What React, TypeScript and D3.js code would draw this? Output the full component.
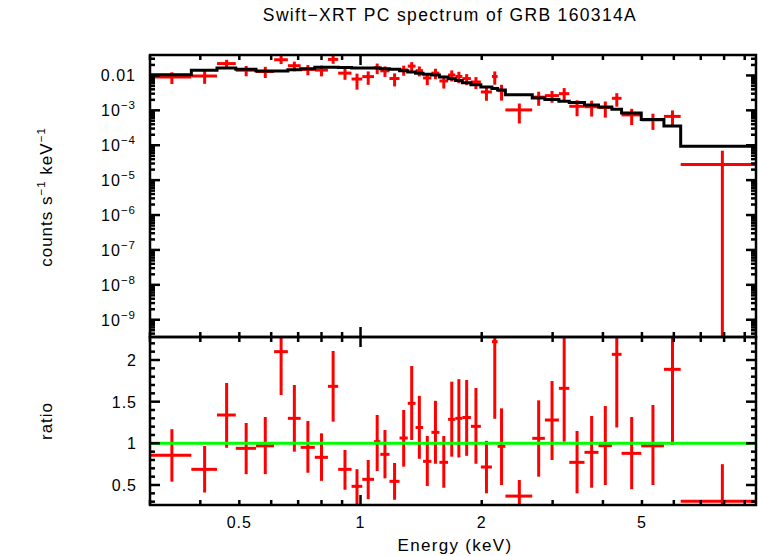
import React, { useEffect, useRef } from "react";
import * as d3 from "d3";

// bin edges in keV (41 bins)
const eEdges = [
  0.30, 0.38, 0.44, 0.49, 0.55, 0.61, 0.66, 0.71, 0.77, 0.83,
  0.88, 0.95, 1.01, 1.08, 1.12, 1.18, 1.25, 1.31, 1.37, 1.43,
  1.50, 1.57, 1.65, 1.72, 1.79, 1.88, 1.99, 2.12, 2.19, 2.29,
  2.67, 2.87, 3.11, 3.30, 3.60, 3.90, 4.21, 4.45, 4.98, 5.67,
  6.24, 9.60,
];

// folded model, counts s^-1 keV^-1
const modelRate = [
  0.0105, 0.014, 0.0163, 0.015, 0.0134, 0.0134, 0.0146, 0.0156, 0.0171, 0.0171,
  0.0169, 0.0163, 0.0163, 0.0163, 0.0156, 0.015, 0.0136, 0.0125, 0.0115, 0.0108,
  0.0103, 0.009, 0.008, 0.0072, 0.0062, 0.0054, 0.0047, 0.0042, 0.0038, 0.0028,
  0.00225, 0.00206, 0.00181, 0.00169, 0.00142, 0.00124, 0.00107, 0.00084, 0.00055, 0.000355,
  0.000093,
];

// data / model
const ratio = [
  0.856, 0.688, 1.34, 0.94, 0.97, 2.1, 1.3, 0.952, 0.832, 1.684,
  0.688, 0.484, 0.568, 1.02, 0.868, 0.544, 1.064, 1.48, 1.19, 0.784,
  1.132, 0.772, 1.288, 1.3, 1.31, 1.204, 0.716, 2.22, 0.964, 0.367,
  1.06, 1.28, 1.66, 0.772, 0.892, 0.972, 2.068, 0.88, 0.97, 1.888,
  0.304,
];
const ratioLo = [
  0.54, 0.41, 0.947, 0.63, 0.63, 1.58, 0.9, 0.647, 0.55, 1.26,
  0.443, 0.24, 0.33, 0.667, 0.58, 0.323, 0.72, 1.04, 0.815, 0.487,
  0.755, 0.467, 0.84, 0.83, 0.85, 0.755, 0.4, 1.295, 0.5, 0.15,
  0.6, 0.8, 1.02, 0.4, 0.467, 0.5, 1.19, 0.45, 0.5, 0.98,
  0.0,
];
const ratioHi = [
  1.17, 0.968, 1.724, 1.244, 1.316, 2.8, 1.7, 1.268, 1.12, 2.108,
  0.92, 0.69, 0.8, 1.34, 1.16, 0.764, 1.4, 1.928, 1.57, 1.088,
  1.51, 1.088, 1.74, 1.77, 1.76, 1.664, 1.03, 3.1, 1.42, 0.56,
  1.516, 1.748, 2.4, 1.148, 1.328, 1.448, 2.9, 1.316, 1.46, 2.8,
  0.75,
];

const xTickLabels = [0.5, 1, 2, 5];
const rateTickExps = [-2, -3, -4, -5, -6, -7, -8, -9];
const ratioTickLabels = [0.5, 1, 1.5, 2];

const title = "Swift\u2212XRT PC spectrum of GRB 160314A";
const font = "'Liberation Sans', Arial, Helvetica, sans-serif";

const SpectrumChart: React.FC = () => {
  const svgRef = useRef<SVGSVGElement | null>(null);

  useEffect(() => {
    if (!svgRef.current) return;
    const width = 758;
    const height = 556;
    const left = 150, right = 756, top = 55, mid = 337, bottom = 505;

    const svg = d3.select(svgRef.current);
    svg.selectAll("*").remove();
    svg.attr("width", width).attr("height", height);
    svg.append("rect").attr("width", width).attr("height", height).attr("fill", "#fff");

    const x = d3.scaleLog().domain([0.3, 9.6]).range([left, right]);
    const yTop = d3.scaleLog().domain([3.2e-10, 0.0385]).range([mid, top]);
    const yBot = d3.scaleLinear().domain([0.26, 2.276]).range([bottom, mid]);

    const bins = modelRate.map((m, i) => ({
      lo: eEdges[i],
      hi: eEdges[i + 1],
      c: (eEdges[i] + eEdges[i + 1]) / 2,
      m,
      r: ratio[i],
      rl: ratioLo[i],
      rh: ratioHi[i],
    }));

    const defs = svg.append("defs");
    defs.append("clipPath").attr("id", "clipTop").append("rect")
      .attr("x", left).attr("y", top).attr("width", right - left).attr("height", mid - top);
    defs.append("clipPath").attr("id", "clipBot").append("rect")
      .attr("x", left).attr("y", mid).attr("width", right - left).attr("height", bottom - mid);

    // top panel: data crosses
    const gTop = svg.append("g").attr("clip-path", "url(#clipTop)");
    const minRate = yTop.domain()[0] * 0.1;
    bins.forEach((b) => {
      gTop.append("line")
        .attr("x1", x(b.lo)).attr("x2", x(b.hi))
        .attr("y1", yTop(b.r * b.m)).attr("y2", yTop(b.r * b.m))
        .attr("stroke", "#ff0000").attr("stroke-width", 3);
      gTop.append("line")
        .attr("x1", x(b.c)).attr("x2", x(b.c))
        .attr("y1", yTop(Math.max(b.rl * b.m, minRate))).attr("y2", yTop(b.rh * b.m))
        .attr("stroke", "#ff0000").attr("stroke-width", 3);
    });

    // model histogram
    const stepPts: [number, number][] = eEdges.map((e, i) => [e, modelRate[Math.min(i, modelRate.length - 1)]]);
    const step = d3.line<[number, number]>()
      .x((d) => x(d[0]))
      .y((d) => yTop(d[1]))
      .curve(d3.curveStepAfter);
    gTop.append("path").attr("d", step(stepPts)).attr("fill", "none")
      .attr("stroke", "#000").attr("stroke-width", 3);

    // bottom panel: ratio
    const gBot = svg.append("g").attr("clip-path", "url(#clipBot)");
    bins.forEach((b) => {
      gBot.append("line")
        .attr("x1", x(b.lo)).attr("x2", x(b.hi))
        .attr("y1", yBot(b.r)).attr("y2", yBot(b.r))
        .attr("stroke", "#ff0000").attr("stroke-width", 3);
      gBot.append("line")
        .attr("x1", x(b.c)).attr("x2", x(b.c))
        .attr("y1", yBot(b.rl)).attr("y2", yBot(b.rh))
        .attr("stroke", "#ff0000").attr("stroke-width", 3);
    });
    gBot.append("line")
      .attr("x1", left).attr("x2", right).attr("y1", yBot(1)).attr("y2", yBot(1))
      .attr("stroke", "#00ff00").attr("stroke-width", 3);

    // frames
    const axes = svg.append("g").attr("stroke", "#000").attr("stroke-width", 2.5).attr("fill", "none");
    axes.append("rect").attr("x", left).attr("y", top).attr("width", right - left).attr("height", mid - top);
    axes.append("rect").attr("x", left).attr("y", mid).attr("width", right - left).attr("height", bottom - mid);

    const tick = (x1: number, y1: number, x2: number, y2: number) =>
      axes.append("line").attr("x1", x1).attr("y1", y1).attr("x2", x2).attr("y2", y2);

    // x ticks
    const xMinor: number[] = [];
    [0.1, 1].forEach((dec) => {
      for (let k = 1; k <= 9; k++) {
        const v = k * dec;
        if (v > 0.3 && v < 9.6 && v !== 1) xMinor.push(v);
      }
    });
    const xMajor = [1];
    const xTicksAt = (yLine: number, dir: number) => {
      xMinor.forEach((v) => tick(x(v), yLine, x(v), yLine + dir * 5));
      xMajor.forEach((v) => tick(x(v), yLine, x(v), yLine + dir * 10));
    };
    xTicksAt(top, 1);
    xTicksAt(mid, -1);
    xTicksAt(mid, 1);
    xTicksAt(bottom, -1);

    // top panel y ticks
    for (let e = -10; e <= -2; e++) {
      for (let k = 1; k <= 9; k++) {
        const v = k * Math.pow(10, e);
        if (v <= yTop.domain()[0] || v >= yTop.domain()[1]) continue;
        const len = k === 1 ? 10 : 5;
        tick(left, yTop(v), left + len, yTop(v));
        tick(right, yTop(v), right - len, yTop(v));
      }
    }
    // bottom panel y ticks
    d3.range(3, 23).forEach((i) => {
      const v = i / 10;
      const len = i % 5 === 0 ? 10 : 5;
      tick(left, yBot(v), left + len, yBot(v));
      tick(right, yBot(v), right - len, yBot(v));
    });

    // labels
    const text = svg.append("g").attr("font-family", font).attr("fill", "#000");
    text.append("text").attr("x", 450).attr("y", 21).attr("text-anchor", "middle")
      .attr("font-size", 17.5).attr("letter-spacing", 1.35).text(title);

    xTickLabels.forEach((v) => {
      text.append("text").attr("x", x(v)).attr("y", 528).attr("text-anchor", "middle")
        .attr("font-size", 16).attr("letter-spacing", 1).text(String(v));
    });
    text.append("text").attr("x", 455).attr("y", 551).attr("text-anchor", "middle")
      .attr("font-size", 17).attr("letter-spacing", 1.3).text("Energy (keV)");

    rateTickExps.forEach((e) => {
      const t = text.append("text").attr("x", 136).attr("y", yTop(Math.pow(10, e)) + 6)
        .attr("text-anchor", "end").attr("font-size", 16).attr("letter-spacing", 1);
      if (e === -2) {
        t.text("0.01");
      } else {
        t.append("tspan").text("10");
        t.append("tspan").attr("dy", -7).attr("font-size", 11.5).text("\u2212" + String(-e));
      }
    });
    ratioTickLabels.forEach((v) => {
      text.append("text").attr("x", 137).attr("y", yBot(v) + 6).attr("text-anchor", "end")
        .attr("font-size", 16).attr("letter-spacing", 1).text(String(v));
    });

    const yl = text.append("text").attr("transform", "translate(52,197) rotate(-90)")
      .attr("text-anchor", "middle").attr("font-size", 17).attr("letter-spacing", 1);
    yl.append("tspan").text("counts s");
    yl.append("tspan").attr("dy", -7).attr("font-size", 11.5).text("\u22121");
    yl.append("tspan").attr("dy", 7).text(" keV");
    yl.append("tspan").attr("dy", -7).attr("font-size", 11.5).text("\u22121");

    text.append("text").attr("transform", "translate(52,421) rotate(-90)")
      .attr("text-anchor", "middle").attr("font-size", 17).attr("letter-spacing", 1).text("ratio");
  }, []);

  return <svg ref={svgRef} style={{ position: "absolute", left: 0, top: 0, display: "block" }}></svg>;
};

export default function App() {
  return <SpectrumChart />;
}
